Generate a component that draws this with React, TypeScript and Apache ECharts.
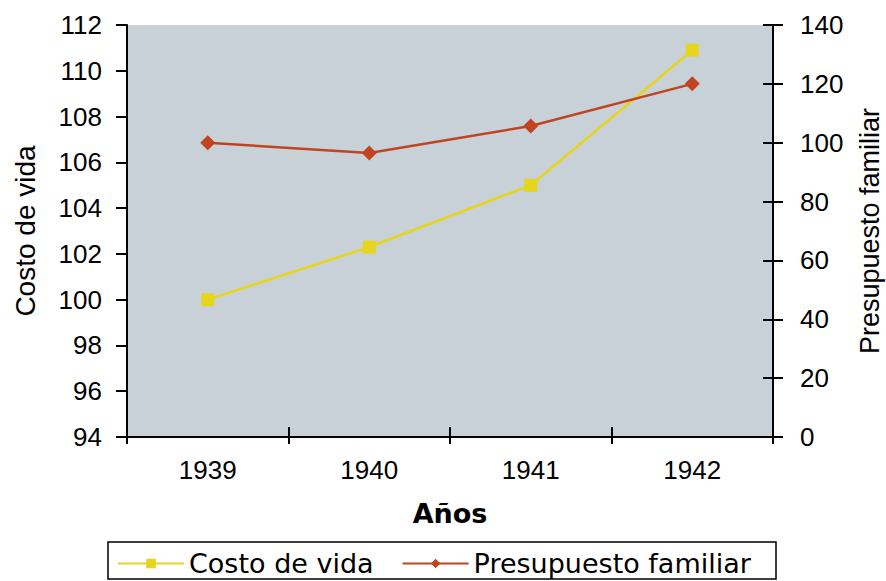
import React, { useEffect, useRef } from "react";
import * as echarts from "echarts";

const years = ["1939", "1940", "1941", "1942"];
const costoVida = [100, 102.3, 105, 110.9];
const presupuesto = [100, 96.5, 105.7, 120];
const leftAxisRange = { min: 94, max: 112, interval: 2 };
const rightAxisRange = { min: 0, max: 140, interval: 20 };

const TICK_FONT = "Liberation Sans";
const LEGEND_FONT = "DejaVu Sans";

export default function App() {
  const ref = useRef<HTMLDivElement>(null);
  useEffect(() => {
    if (!ref.current) return;
    const chart = echarts.init(ref.current, undefined, { renderer: "svg" });
    const axisLine = { show: true, lineStyle: { color: "#000", width: 2 } };
    const tickStyle = { color: "#000", width: 2 };
    chart.setOption({
      animation: false,
      backgroundColor: "#ffffff",
      grid: {
        left: 127,
        right: 113,
        top: 25,
        bottom: 144,
        show: true,
        backgroundColor: "#c7d1d7",
        borderWidth: 0,
        outerBoundsMode: "none",
        containLabel: false,
      },
      graphic: [
        {
          type: "rect",
          shape: { x: 108, y: 542, width: 668, height: 37 },
          style: { fill: "#fff", stroke: "#000", lineWidth: 1.5 },
          z: -1,
        },
      ],
      legend: {
        left: 112,
        top: 545,
        itemWidth: 66,
        itemHeight: 12,
        itemGap: 28,
        textStyle: { fontFamily: LEGEND_FONT, fontSize: 27, color: "#000" },
        data: ["Costo de vida", "Presupuesto familiar"],
      },
      xAxis: [
        {
          type: "category",
          data: years,
          boundaryGap: true,
          axisLine,
          axisTick: { show: true, length: 7, lineStyle: tickStyle },
          axisLabel: { fontFamily: TICK_FONT, fontSize: 26, color: "#000", margin: 20 },
          name: "Años",
          nameLocation: "middle",
          nameGap: 63,
          nameTextStyle: {
            fontFamily: LEGEND_FONT,
            fontWeight: "bold",
            fontSize: 27,
            color: "#000",
          },
        },
        {
          type: "category",
          data: years,
          position: "bottom",
          boundaryGap: true,
          axisLine: { show: false },
          axisTick: { show: true, inside: true, length: 10, lineStyle: tickStyle },
          axisLabel: { show: false },
        },
      ],
      yAxis: [
        {
          type: "value",
          position: "left",
          ...leftAxisRange,
          splitLine: { show: false },
          axisLine,
          axisTick: { show: true, length: 11, lineStyle: tickStyle },
          axisLabel: { fontFamily: TICK_FONT, fontSize: 26, color: "#000", margin: 25 },
          name: "Costo de vida",
          nameLocation: "middle",
          nameGap: 88,
          nameTextStyle: { fontFamily: TICK_FONT, fontSize: 28, color: "#000" },
        },
        {
          type: "value",
          position: "right",
          ...rightAxisRange,
          splitLine: { show: false },
          axisLine,
          axisTick: { show: true, length: 10, lineStyle: tickStyle },
          axisLabel: { fontFamily: TICK_FONT, fontSize: 26, color: "#000", margin: 27 },
          name: "Presupuesto familiar",
          nameLocation: "middle",
          nameRotate: 90,
          nameGap: 83,
          nameTextStyle: { fontFamily: TICK_FONT, fontSize: 27, color: "#000" },
        },
        {
          type: "value",
          position: "right",
          ...rightAxisRange,
          splitLine: { show: false },
          axisLine: { show: false },
          axisTick: { show: true, inside: true, length: 10, lineStyle: tickStyle },
          axisLabel: { show: false },
        },
      ],
      series: [
        {
          name: "Costo de vida",
          type: "line",
          data: costoVida,
          xAxisIndex: 0,
          yAxisIndex: 0,
          symbol: "rect",
          symbolSize: 13,
          lineStyle: { color: "#e6d51c", width: 2.5 },
          itemStyle: { color: "#e6d51c" },
        },
        {
          name: "Presupuesto familiar",
          type: "line",
          data: presupuesto,
          xAxisIndex: 0,
          yAxisIndex: 1,
          symbol: "diamond",
          symbolSize: 15,
          lineStyle: { color: "#c04422", width: 2.5 },
          itemStyle: { color: "#c04422" },
        },
      ],
    });
    return () => chart.dispose();
  }, []);
  return (
    <div
      ref={ref}
      style={{ position: "fixed", left: 0, top: 0, width: 886, height: 581 }}
    />
  );
}
